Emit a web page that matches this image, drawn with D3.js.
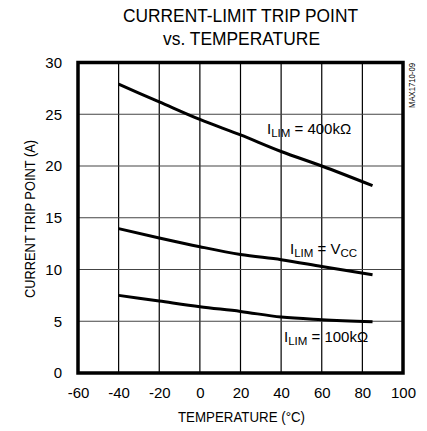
<!DOCTYPE html>
<html><head><meta charset="utf-8">
<script src="https://cdn.jsdelivr.net/npm/d3@7"></script>
<style>
body{margin:0;background:#fff;}
text{font-family:"Liberation Sans",Arial,sans-serif;fill:#000;}
</style></head><body>
<svg id="c" width="427" height="431"></svg>
<script>
const temps = [-40, -20, 0, 20, 40, 60, 85];
const ilim400k = [27.9, 26.2, 24.5, 23.0, 21.4, 20.0, 18.1];
const ilimVcc = [13.95, 13.05, 12.2, 11.45, 10.95, 10.3, 9.5];
const ilim100k = [7.5, 6.95, 6.4, 5.95, 5.4, 5.15, 4.95];
const xTicks = [-60, -40, -20, 0, 20, 40, 60, 80, 100];
const yTicks = [0, 5, 10, 15, 20, 25, 30];

const svg = d3.select("#c");
const L = 78, R = 403, T = 62.5, B = 373;
const x = d3.scaleLinear().domain([-60, 100]).range([L, R]);
const y = d3.scaleLinear().domain([0, 30]).range([B, T]);

// grid
const g = svg.append("g");
g.selectAll(".vx").data(xTicks.slice(1, -1)).enter().append("line")
  .attr("x1", d => x(d)).attr("x2", d => x(d)).attr("y1", T).attr("y2", B)
  .attr("stroke", "#000").attr("stroke-width", 1.2);
g.selectAll(".hy").data(yTicks.slice(1, -1)).enter().append("line")
  .attr("x1", L).attr("x2", R).attr("y1", d => y(d)).attr("y2", d => y(d))
  .attr("stroke", "#444").attr("stroke-width", 1.2);
svg.append("rect").attr("x", L).attr("y", T).attr("width", R - L).attr("height", B - T)
  .attr("fill", "none").attr("stroke", "#000").attr("stroke-width", 3.5);

// axes via d3 axis
const xAxis = d3.axisBottom(x).tickValues(xTicks).tickSize(0).tickPadding(14).tickFormat(d => String(d));
const xa = svg.append("g").attr("transform", `translate(0,${B})`).call(xAxis);
xa.select(".domain").remove();
xa.selectAll("text").attr("font-size", 15).attr("font-family", "Liberation Sans, Arial, sans-serif");
const yAxis = d3.axisLeft(y).tickValues(yTicks).tickSize(0).tickPadding(16).tickFormat(d => String(d));
const ya = svg.append("g").attr("transform", `translate(${L},0)`).call(yAxis);
ya.select(".domain").remove();
ya.selectAll("text").attr("font-size", 15).attr("font-family", "Liberation Sans, Arial, sans-serif");

// lines
const line = d3.line().x(d => x(d[0])).y(d => y(d[1])).curve(d3.curveMonotoneX);
[ilim400k, ilimVcc, ilim100k].forEach(s => {
  svg.append("path").datum(temps.map((t, i) => [t, s[i]])).attr("d", line)
    .attr("fill", "none").attr("stroke", "#000").attr("stroke-width", 3);
});

// titles
function fitText(xp, yp, size, len, txt, anchor) {
  return svg.append("text").attr("x", xp).attr("y", yp).attr("font-size", size)
    .attr("textLength", len).attr("lengthAdjust", "spacingAndGlyphs").text(txt);
}
fitText(123, 22, 18, 235, "CURRENT-LIMIT TRIP POINT");
fitText(163, 45, 18, 157, "vs. TEMPERATURE");
fitText(178, 422, 15, 127, "TEMPERATURE (°C)");
svg.append("text").attr("transform", "translate(35,298) rotate(-90)").attr("font-size", 15)
  .attr("textLength", 158).attr("lengthAdjust", "spacingAndGlyphs").text("CURRENT TRIP POINT (A)");
svg.append("text").attr("transform", "translate(415,108) rotate(-90)").attr("font-size", 8.5)
  .attr("textLength", 45).attr("lengthAdjust", "spacingAndGlyphs").text("MAX1710-09");

// labels
function lab(xp, yp, sub, rest, sub2) {
  const t = svg.append("text").attr("x", xp).attr("y", yp).attr("font-size", 15);
  t.append("tspan").text("I");
  t.append("tspan").attr("dy", 3).attr("font-size", 11.5).text(sub);
  t.append("tspan").attr("dy", -3).text(rest);
  if (sub2) t.append("tspan").attr("dy", 3).attr("font-size", 11.5).text(sub2);
}
lab(267, 134, "LIM", " = 400kΩ");
lab(290, 254, "LIM", " = V", "CC");
lab(284, 342, "LIM", " = 100kΩ");
</script></body></html>
